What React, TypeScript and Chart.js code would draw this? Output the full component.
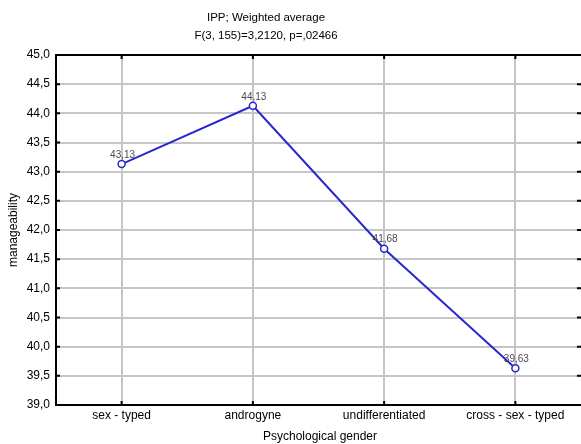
import React, { useEffect, useRef } from "react";
import { Chart, registerables } from "chart.js";

Chart.register(...registerables);

const categories = ["sex - typed", "androgyne", "undifferentiated", "cross - sex - typed"];
const means = [43.13, 44.13, 41.68, 39.63];
const titleLines = ["IPP; Weighted average", "F(3, 155)=3,2120, p=,02466"];
const yTitle = "manageability";
const xTitle = "Psychological gender";
const yMin = 39;
const yMax = 45;
const yStep = 0.5;

const FONT = "'Liberation Sans', Arial, sans-serif";

const fmt = (v: number) => v.toFixed(2).replace(".", ",");

const decorPlugin = {
  id: "decor",
  afterDraw(chart: any) {
    const { ctx, chartArea } = chart;
    const { left, right, top, bottom } = chartArea;
    const xs = chart.scales.x;
    const ys = chart.scales.y;
    ctx.save();
    ctx.strokeStyle = "#000";
    ctx.lineWidth = 2;
    ctx.beginPath();
    ctx.moveTo(left - 1, top);
    ctx.lineTo(right, top);
    ctx.stroke();
    ys.ticks.forEach((t: any) => {
      const y = ys.getPixelForValue(t.value);
      ctx.beginPath();
      ctx.moveTo(left, y);
      ctx.lineTo(left + 4, y);
      ctx.moveTo(581 - 4, y);
      ctx.lineTo(581, y);
      ctx.stroke();
    });
    categories.forEach((_c, i) => {
      const x = xs.getPixelForValue(i);
      ctx.beginPath();
      ctx.moveTo(x, top);
      ctx.lineTo(x, top + 4);
      ctx.moveTo(x, bottom);
      ctx.lineTo(x, bottom - 4);
      ctx.stroke();
    });
    const meta = chart.getDatasetMeta(0);
    ctx.fillStyle = "#4a4a4a";
    ctx.font = `10px ${FONT}`;
    ctx.textAlign = "center";
    ctx.textBaseline = "middle";
    meta.data.forEach((pt: any, i: number) => {
      ctx.fillText(fmt(means[i]), pt.x + 1, pt.y - 9);
    });
    ctx.fillStyle = "#000";
    ctx.font = `11.5px ${FONT}`;
    ctx.fillText(titleLines[0], 266, 18);
    ctx.fillText(titleLines[1], 266, 36);
    ctx.font = `12px ${FONT}`;
    ctx.fillText(xTitle, 320, 437);
    ctx.translate(14, 230);
    ctx.rotate(-Math.PI / 2);
    ctx.fillText(yTitle, 0, 0);
    ctx.restore();
  },
};

export default function App() {
  const ref = useRef<HTMLCanvasElement | null>(null);
  useEffect(() => {
    document.body.style.margin = "0";
    const canvas = ref.current!;
    const chart = new Chart(canvas, {
      type: "line",
      data: {
        labels: categories,
        datasets: [
          {
            data: means,
            borderColor: "#2828d0",
            borderWidth: 2,
            pointRadius: 3.5,
            pointBackgroundColor: "#fff",
            pointBorderColor: "#2828d0",
            pointBorderWidth: 1.5,
            tension: 0,
          },
        ],
      },
      options: {
        animation: false,
        responsive: false,
        devicePixelRatio: 1,
        layout: { autoPadding: false, padding: { top: 55, left: 0, right: -3, bottom: 0 } },
        plugins: {
          legend: { display: false },
          title: { display: false },
          tooltip: { enabled: false },
        },
        scales: {
          x: {
            type: "category",
            offset: true,
            grid: { offset: false, color: "#c6c6c6", lineWidth: 2, drawTicks: false },
            border: { color: "#000", width: 2 },
            ticks: { color: "#000", font: { family: FONT, size: 12 }, padding: 3, maxRotation: 0 },
            afterFit: (s: any) => {
              s.height = 39;
              s.paddingLeft = 0;
              s.paddingRight = 0;
            },
          },
          y: {
            min: yMin,
            max: yMax,
            grid: { color: "#c6c6c6", lineWidth: 2, drawTicks: false },
            border: { color: "#000", width: 2 },
            ticks: {
              stepSize: yStep,
              color: "#000",
              font: { family: FONT, size: 12 },
              padding: 6,
              callback: (v: any) => Number(v).toFixed(1).replace(".", ","),
            },
            afterFit: (s: any) => {
              s.width = 56;
              s.paddingTop = 0;
              s.paddingBottom = 0;
            },
          },
        },
      },
      plugins: [decorPlugin],
    });
    return () => chart.destroy();
  }, []);
  return (
    <div style={{ width: 581, height: 444, background: "#fff" }}>
      <canvas ref={ref} width={581} height={444} style={{ display: "block" }} />
    </div>
  );
}
